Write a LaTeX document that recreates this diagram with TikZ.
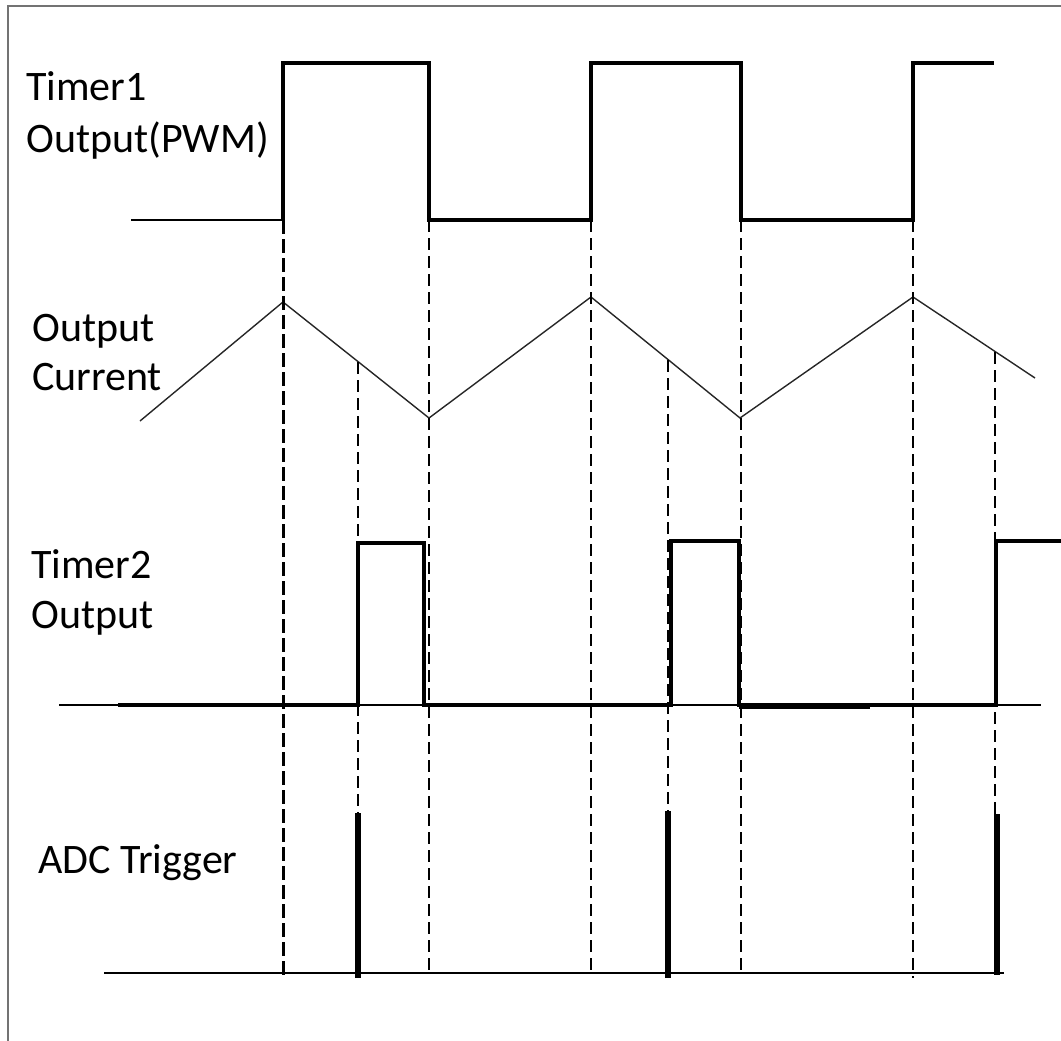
\documentclass[tikz,border=0pt]{standalone}
\usepackage{fontspec}
\setmainfont{Carlito}
\tikzset{
    sig/.style={line width=4.6pt},
    base/.style={line width=1.6pt},
    guide/.style={line width=1.6pt, dash pattern=on 12pt off 6pt},
    lbl/.style={anchor=base west, inner sep=0pt, font=\fontsize{42}{50}\selectfont}
}
\begin{document}
\begin{tikzpicture}[x=1pt,y=-1pt]
        \useasboundingbox (0,0) rectangle (1061,1041);
        \draw [line width=2.4pt, black!55] (8,1041) -- (8,6) -- (1061,6);
        % labels
        \node [lbl] (timA) at (26,100) {Timer1};
        \node [lbl] (timB) at (26,152) {Output(PWM)};
        \node [lbl] (curA) at (32,341) {Output};
        \node [lbl] (curB) at (32,390) {Current};
        \node [lbl] (tmrA) at (31,578) {Timer2};
        \node [lbl] (tmrB) at (31,628) {Output};
        \node [lbl] (adc) at (38,873) {ADC Trigger};
        % timer1 (pwm)
        \draw [base] (131,220) -- (283,220);
        \draw [sig] (283,220) -- (283,63) -- (429,63) -- (429,220) -- (591,220) -- (591,63)
                -- (741,63) -- (741,220) -- (913,220) -- (913,63) -- (994,63);
        % output current
        \draw [line width=1.4pt, black!85] (140,421) -- (283,302) -- (429,418) -- (591,297)
                -- (740,418) -- (913,297) -- (1035,378);
        % timer2
        \draw [base] (59,705) -- (1041,705);
        \draw [sig] (118,705) -- (358,705) -- (358,543) -- (424,543) -- (424,705) -- (671,705)
                -- (671,541) -- (739,541) -- (739,705) -- (996,705) -- (996,541) -- (1061,541);
        \draw [line width=6.5pt] (739,706) -- (870,706);
        % adc trigger
        \draw [base] (104,973) -- (1004,973);
        \draw [line width=5.5pt] (358,813) -- (358,978);
        \draw [line width=5.5pt] (668,811) -- (668,978);
        \draw [line width=5.5pt] (997,814) -- (997,975);
        % guides
        \draw [guide, line width=3pt, dash pattern=on 14pt off 5pt] (283,220) -- (283,978);
        \draw [guide] (358,362) -- (358,813);
        \draw [guide] (429,220) -- (429,975);
        \draw [guide] (591,220) -- (591,975);
        \draw [guide] (668,360) -- (668,811);
        \draw [guide] (741,220) -- (741,975);
        \draw [guide] (913,220) -- (913,978);
        \draw [guide] (995,352) -- (995,814);
\end{tikzpicture}
\end{document}
